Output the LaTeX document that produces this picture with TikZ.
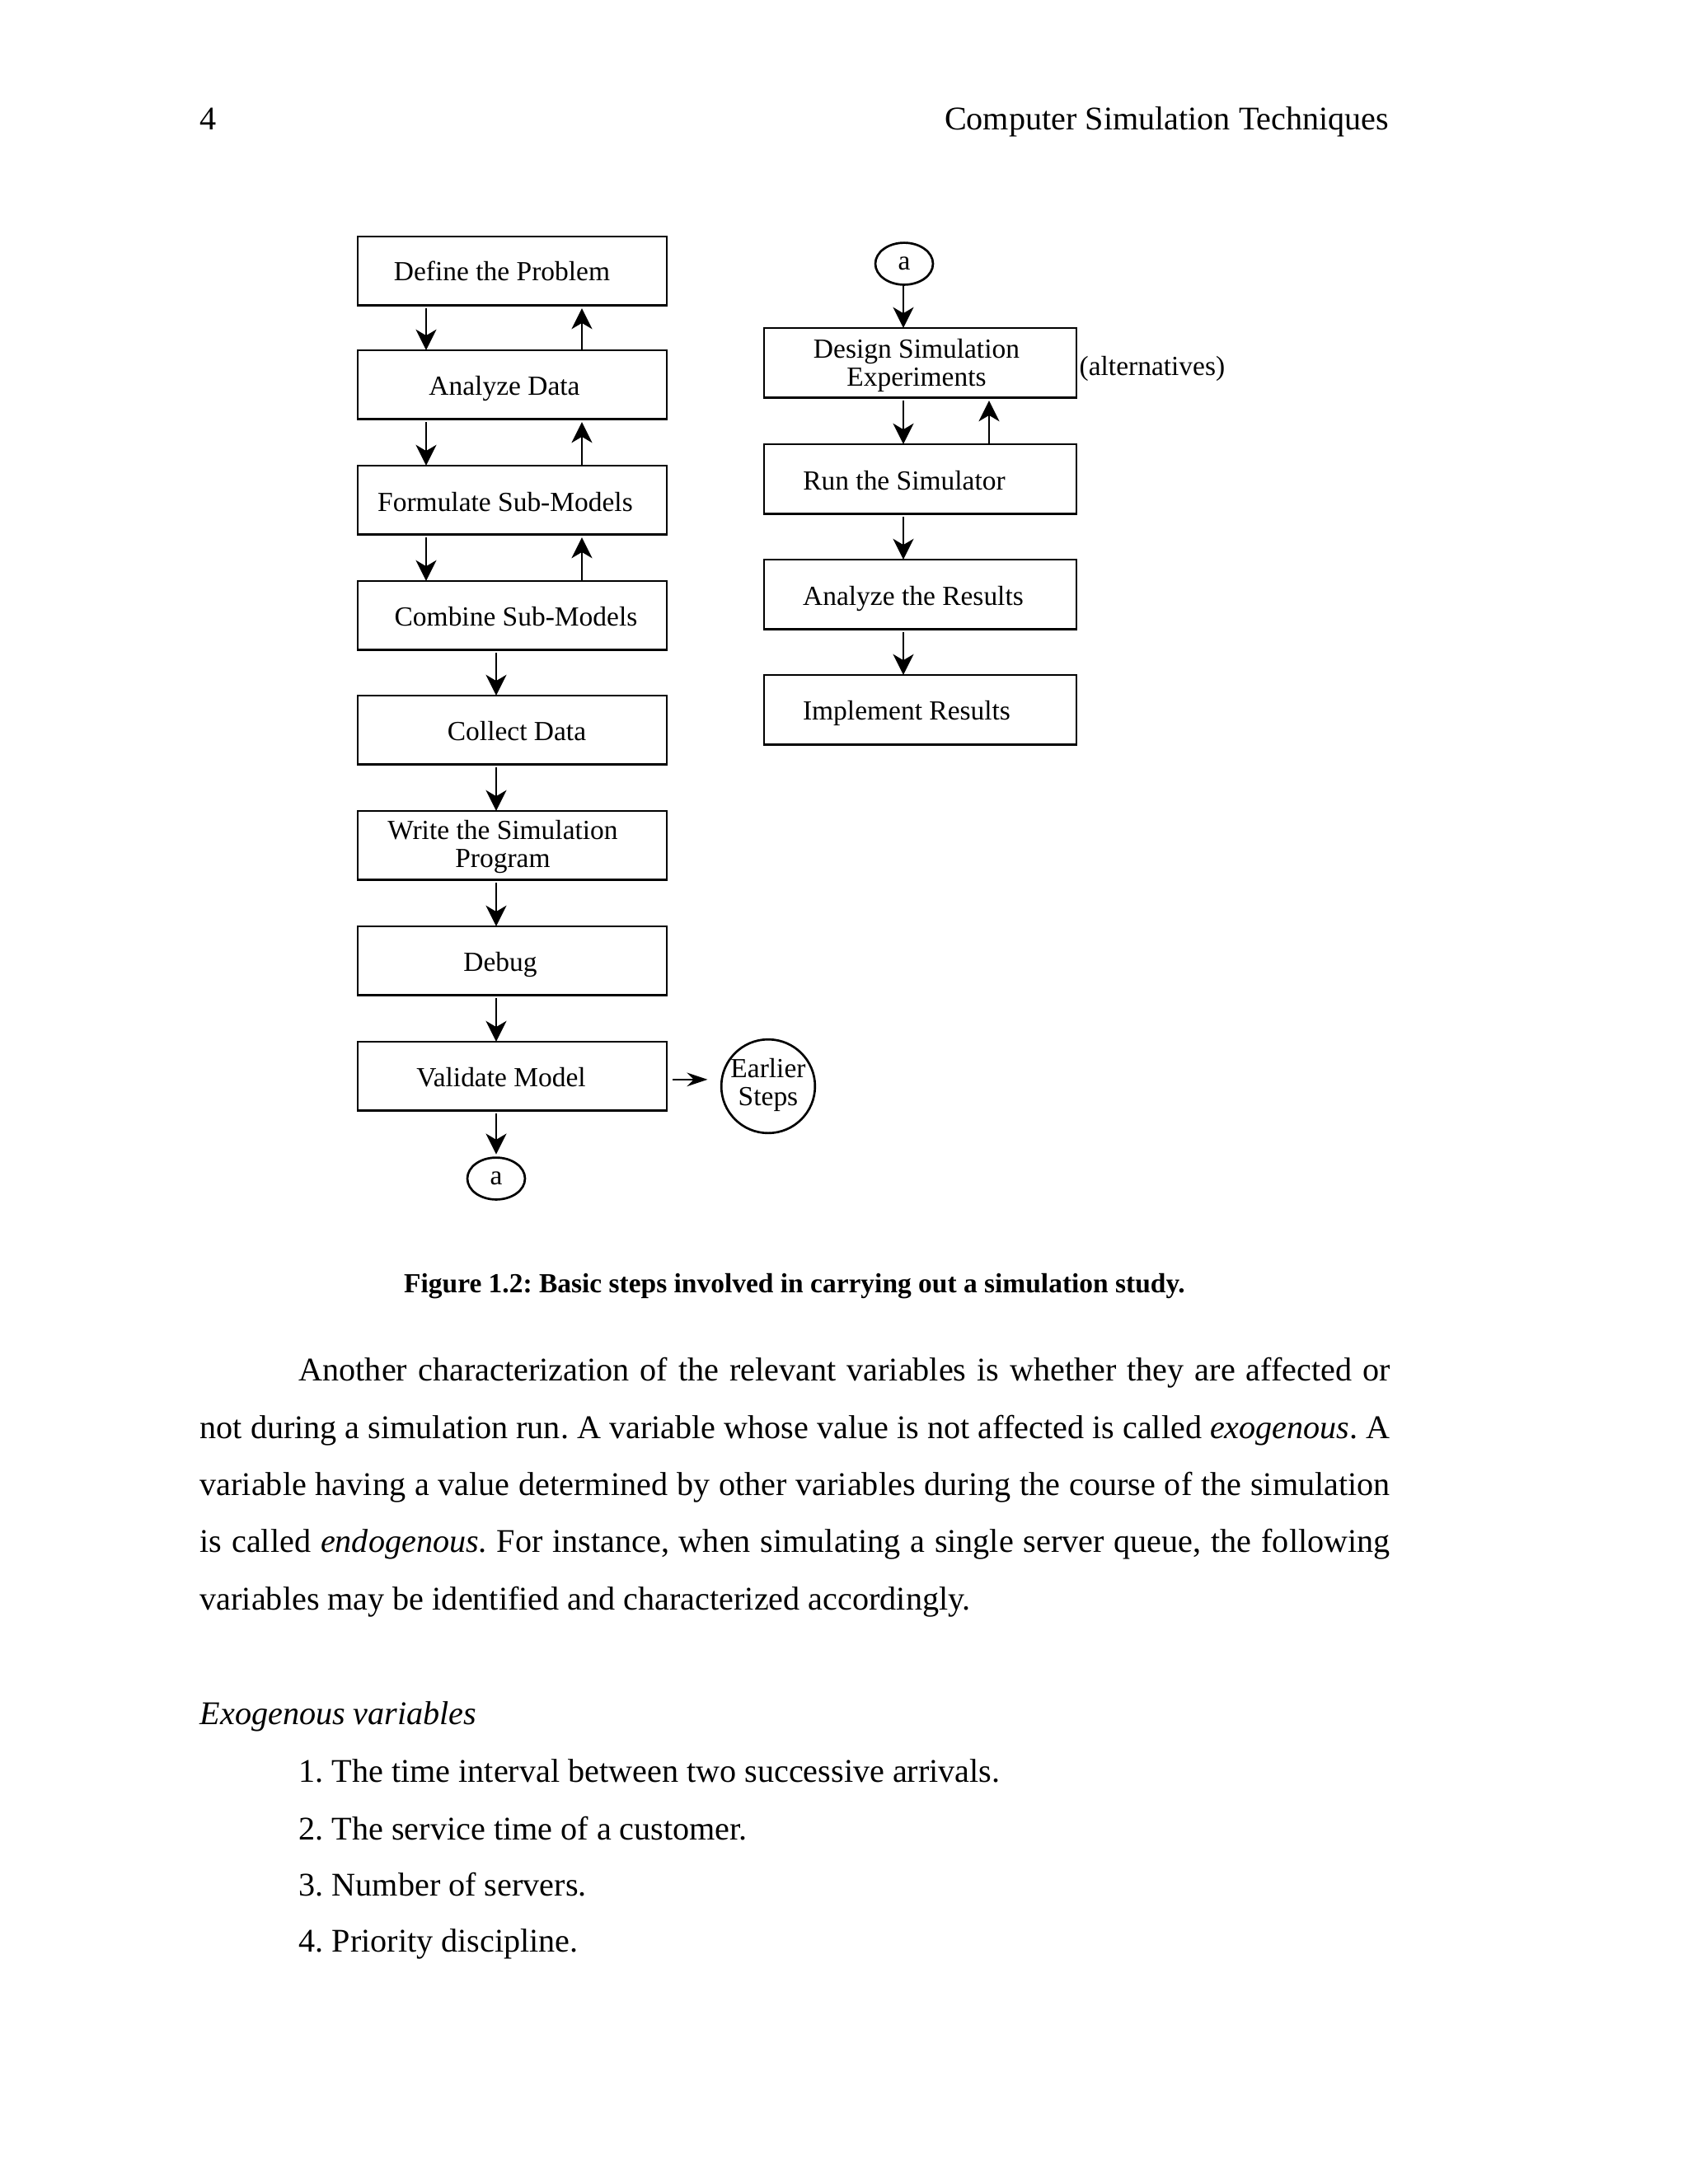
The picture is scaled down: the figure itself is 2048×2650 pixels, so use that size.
\documentclass[tikz,border=0pt]{standalone}
\usepackage{fontspec}
\setmainfont{Liberation Serif}
\usetikzlibrary{arrows.meta,shapes.geometric}
\begin{document}
\frenchspacing
\begin{tikzpicture}[x=0.29883pt,y=-0.29883pt,
  figfont/.style={font=\fontsize{10}{10.2}\selectfont},
  lbox/.style={draw, line width=0.8pt, inner sep=0pt, outer sep=0pt, minimum width=112.1pt, minimum height=24.9pt},
  rbox/.style={draw, line width=0.8pt, inner sep=0pt, outer sep=0pt, minimum width=113.3pt, minimum height=25.2pt},
  lbl/.style={figfont, anchor=base, inner sep=0pt},
  conn/.style={draw, line width=0.8pt, ellipse, inner sep=0pt, outer sep=0pt, minimum width=20.9pt, minimum height=15.2pt, figfont},
  arr/.style={line width=0.7pt, -{Stealth[length=7.5pt,width=7.5pt,inset=2.2pt]}, shorten <=1.2pt},
  arrb/.style={line width=0.7pt, -{Stealth[length=7.5pt,width=5pt,inset=2.5pt]}},
  body/.style={font=\fontsize{12}{14}\selectfont, anchor=base west, inner sep=0pt}]
\useasboundingbox (0,0) rectangle (2048,2650);
\fill[white] (0,0) rectangle (2048,2650);

% header
\node[body] (pgno) at (242,157) {4};
\node[body, anchor=base east] (runhead) at (1686,157) {Computer Simulation Techniques};

% x positions of connectors
\coordinate (xl1) at (517,0);
\coordinate (xl2) at (706,0);
\coordinate (xlm) at (602,0);
\coordinate (xr1) at (1096,0);
\coordinate (xr2) at (1200,0);

% left column boxes
\node[lbox] (define)   at (621.5,328.5)  {};
\node[lbox] (analyze)  at (621.5,466.5)  {};
\node[lbox] (formul)   at (621.5,606.5)  {};
\node[lbox] (combine)  at (621.5,746.5)  {};
\node[lbox] (collect)  at (621.5,885.5)  {};
\node[lbox] (write)    at (621.5,1025.5) {};
\node[lbox] (debug)    at (621.5,1165.5) {};
\node[lbox] (validate) at (621.5,1305.5) {};

\node[lbl] (tdefine)   at (609,340)   {Define the Problem};
\node[lbl] (tanalyze)  at (612,479)   {Analyze Data};
\node[lbl] (tformul)   at (613,620)   {Formulate Sub-Models};
\node[lbl] (tcombine)  at (626,759)   {Combine Sub-Models};
\node[lbl] (tcollect)  at (627,898)   {Collect Data};
\node[lbl] (twrite)    at (610,1018)  {\begin{tabular}[t]{@{}c@{}}Write the Simulation\\Program\end{tabular}};
\node[lbl] (tdebug)    at (607,1178)  {Debug};
\node[lbl] (tvalidate) at (608,1318)  {Validate Model};

\node[conn] (abot) at (602,1430) {a};
\node[draw, line width=0.8pt, circle, inner sep=0pt, outer sep=0pt, minimum size=33.5pt, figfont] (earlier) at (932,1318)
  {\begin{tabular}[t]{@{}c@{}}Earlier\\Steps\end{tabular}};

% right column
\node[conn] (atop) at (1097,320) {a};
\node[rbox] (design)    at (1116.5,440) {};
\node[rbox] (run)       at (1116.5,581) {};
\node[rbox] (aresults)  at (1116.5,721) {};
\node[rbox] (implement) at (1116.5,861) {};

\node[lbl] (tdesign)    at (1112,434) {\begin{tabular}[t]{@{}c@{}}Design Simulation\\Experiments\end{tabular}};
\node[lbl] (trun)       at (1097,594) {Run the Simulator};
\node[lbl] (taresults)  at (1108,734) {Analyze the Results};
\node[lbl] (timplement) at (1100,873) {Implement Results};
\node[lbl, anchor=base west] (alt) at (1309,455) {(alternatives)};

% connectors, left column
\draw[arr] (define.south -| xl1) -- (analyze.north -| xl1);
\draw[arr, shorten >=1.2pt, shorten <=0pt] (analyze.north -| xl2) -- (define.south -| xl2);
\draw[arr] (analyze.south -| xl1) -- (formul.north -| xl1);
\draw[arr, shorten >=1.2pt, shorten <=0pt] (formul.north -| xl2) -- (analyze.south -| xl2);
\draw[arr] (formul.south -| xl1) -- (combine.north -| xl1);
\draw[arr, shorten >=1.2pt, shorten <=0pt] (combine.north -| xl2) -- (formul.south -| xl2);
\draw[arr] (combine.south -| xlm) -- (collect.north -| xlm);
\draw[arr] (collect.south -| xlm) -- (write.north -| xlm);
\draw[arr] (write.south -| xlm) -- (debug.north -| xlm);
\draw[arr] (debug.south -| xlm) -- (validate.north -| xlm);
\draw[arr, shorten >=1.2pt] (validate.south -| xlm) -- (abot.north);
\draw[arrb, shorten <=2.1pt, shorten >=5pt] ([yshift=-1.3pt]validate.east) -- ([yshift=-1.3pt]validate.east -| earlier.west);

% connectors, right column
\draw[arr, shorten <=0pt] (atop.south -| xr1) -- (design.north -| xr1);
\draw[arr] (design.south -| xr1) -- (run.north -| xr1);
\draw[arr, shorten >=1.2pt, shorten <=0pt] (run.north -| xr2) -- (design.south -| xr2);
\draw[arr] (run.south -| xr1) -- (aresults.north -| xr1);
\draw[arr] (aresults.south -| xr1) -- (implement.north -| xr1);

% caption
\node[font=\bfseries\fontsize{10}{12}\selectfont, anchor=base, inner sep=0pt] (caption) at (964,1568)
  {Figure 1.2: Basic steps involved in carrying out a simulation study.};

% body text
\node[body] (p1) at (362,1675) {\makebox[395.7pt][s]{Another characterization of the relevant variables is whether they are affected or}};
\node[body] (p2) at (242,1745) {\makebox[431.5pt][s]{not during a simulation run. A variable whose value is not affected is called \textit{exogenous}. A}};
\node[body] (p3) at (242,1814) {\makebox[431.5pt][s]{variable having a value determined by other variables during the course of the simulation}};
\node[body] (p4) at (242,1883) {\makebox[431.5pt][s]{is called \textit{endogenous}. For instance, when simulating a single server queue, the following}};
\node[body] (p5) at (242,1953) {variables may be identified and characterized accordingly.};

\node[body] (exo) at (242,2092) {\textit{Exogenous variables}};
\node[body] (i1) at (362,2162) {1. The time interval between two successive arrivals.};
\node[body] (i2) at (362,2232) {2. The service time of a customer.};
\node[body] (i3) at (362,2300) {3. Number of servers.};
\node[body] (i4) at (362,2368) {4. Priority discipline.};
\end{tikzpicture}
\end{document}
